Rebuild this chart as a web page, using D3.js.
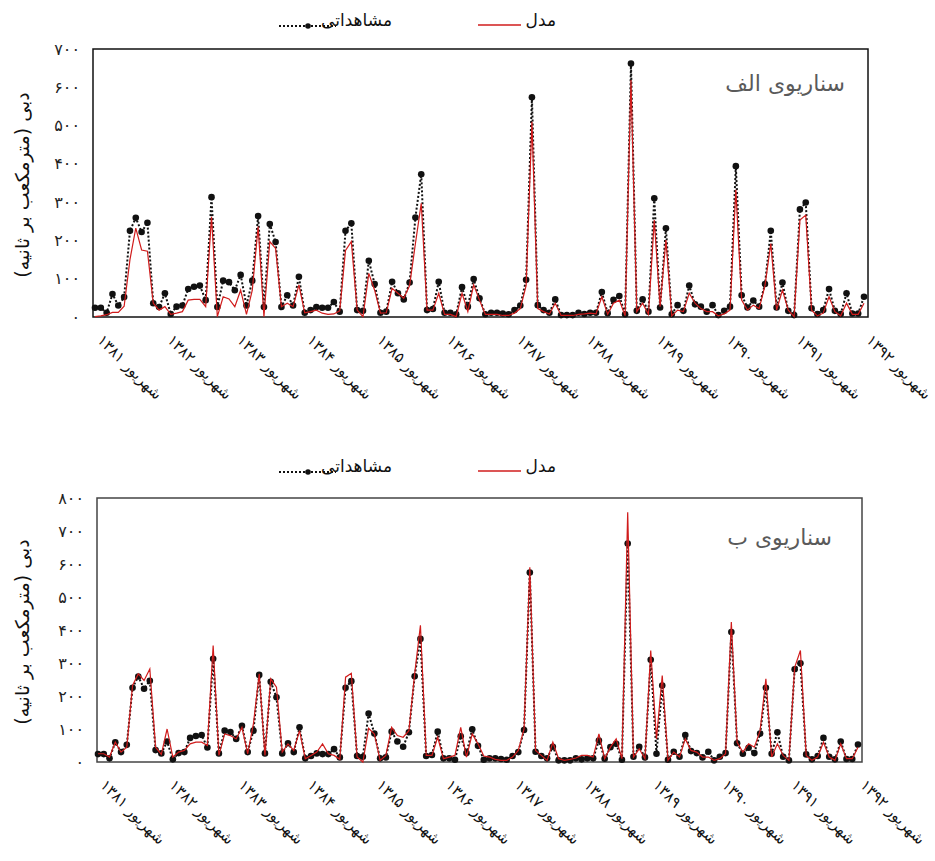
<!DOCTYPE html>
<html><head><meta charset="utf-8">
<script src="https://cdn.jsdelivr.net/npm/d3@7"></script>
<style>body{margin:0;background:#fff;} svg{display:block;} text{font-family:"DejaVu Sans",sans-serif;}</style>
</head><body>
<svg id="c" width="935" height="861"></svg>
<script>
// Observed discharge (m3/s), monthly, same in both panels
const observed = [24,24,11,60,30,52,225,259,222,246,36,26,62,8,27,30,73,79,82,44,313,26,95,91,70,110,30,95,264,26,243,196,26,57,30,105,11,18,26,24,24,39,14,225,245,18,16,147,86,11,14,92,62,46,90,260,373,18,21,92,11,11,7,78,27,99,49,7,11,11,9,7,18,30,97,574,31,18,11,46,5,5,5,11,8,11,11,65,10,45,55,7,662,16,46,14,310,25,232,7,31,16,82,33,27,14,31,5,16,27,394,57,25,43,27,86,225,25,90,16,5,281,299,23,8,18,73,16,8,62,9,9,53];
// Model, scenario A (الف)
const modelA = [1,3,6,12,12,28,150,232,175,172,36,18,27,7,10,14,44,46,46,27,262,1,53,47,27,70,7,70,236,1,197,179,27,36,27,84,11,14,18,10,7,8,16,174,197,18,1,114,70,10,11,75,62,49,82,192,297,18,18,62,7,7,1,62,14,84,44,7,7,7,4,4,10,22,82,510,22,14,8,36,4,4,4,7,8,10,8,53,7,36,44,3,619,14,36,7,253,27,201,3,18,14,62,36,22,14,14,3,8,18,332,44,18,31,22,82,192,18,70,18,1,253,266,18,3,10,53,14,3,36,7,7,36];
// Model, scenario B (ب)
const modelB = [25,25,15,60,30,45,232,267,247,282,45,23,100,15,30,35,55,60,60,50,353,20,85,80,70,105,25,116,267,20,252,227,30,55,35,95,10,20,30,55,25,20,8,257,269,15,0,102,85,5,20,105,80,75,95,267,414,20,20,75,10,15,20,105,15,85,55,18,15,8,5,5,15,35,100,590,35,20,5,60,10,5,8,12,20,20,15,85,10,45,70,10,757,15,40,10,338,70,262,5,30,15,70,35,30,15,15,5,10,25,424,60,30,55,45,95,252,15,55,20,5,287,338,20,5,15,60,15,5,55,10,10,45];
const yearLabels = ["۱۳۸۱","۱۳۸۲","۱۳۸۳","۱۳۸۴","۱۳۸۵","۱۳۸۶","۱۳۸۷","۱۳۸۸","۱۳۸۹","۱۳۹۰","۱۳۹۱","۱۳۹۲"];
const monthName = "شهریور";
const yTicksA = [0,100,200,300,400,500,600,700];
const yTicksB = [0,100,200,300,400,500,600,700,800];
const persianDigits = "۰۱۲۳۴۵۶۷۸۹";
const fa = n => String(n).replace(/\d/g, d => persianDigits[d]);
const yTitle = "دبی (مترمکعب بر ثانیه)";
const legendObs = "مشاهداتی";
const legendModel = "مدل";

const svg = d3.select("#c");

function panel(cfg){
  const g = svg.append("g");
  const x = d3.scaleLinear().domain([0, observed.length-1]).range([cfg.px0, cfg.px1]);
  const y = d3.scaleLinear().domain([0, cfg.ymax]).range([cfg.y1, cfg.y0]);
  // box
  g.append("rect").attr("x", cfg.x0).attr("y", cfg.y0).attr("width", cfg.x1-cfg.x0).attr("height", cfg.y1-cfg.y0)
    .attr("fill","none").attr("stroke", cfg.boxColor).attr("stroke-width",1.5);
  // y axis labels
  const ya = d3.axisLeft(y).tickValues(cfg.yticks).tickSize(0).tickPadding(0).tickFormat(fa);
  const yg = g.append("g").attr("transform",`translate(${cfg.x0-13},0)`).call(ya);
  yg.select(".domain").remove();
  yg.selectAll("text").attr("font-size",16).attr("fill","#222").attr("font-family","DejaVu Sans");
  // y title
  g.append("text").attr("transform",`translate(23,${(cfg.y0+cfg.y1)/2+2}) rotate(-90)`)
    .attr("text-anchor","middle").attr("dominant-baseline","middle").attr("font-size",19).attr("fill","#111").text(yTitle);
  // x labels
  const xa = d3.axisBottom(x).tickValues(d3.range(0, observed.length, 12)).tickSize(0).tickFormat((d,i)=> monthName+" "+yearLabels[i]);
  const xg = g.append("g").attr("transform",`translate(0,${cfg.y1})`).call(xa);
  xg.select(".domain").remove();
  xg.selectAll("text").attr("font-size",15).attr("fill","#111").attr("font-family","DejaVu Sans")
    .attr("text-anchor","start").attr("y",0).attr("dy",0)
    .attr("transform","translate(1,24) rotate(45)");
  // observed dotted line
  const line = d3.line().x((d,i)=>x(i)).y(d=>y(d));
  g.append("path").datum(observed).attr("d",line).attr("fill","none").attr("stroke","#111")
    .attr("stroke-width",2).attr("stroke-dasharray","2,2");
  g.selectAll("circle.o").data(observed).join("circle").attr("class","o")
    .attr("cx",(d,i)=>x(i)).attr("cy",d=>y(d)).attr("r",3.3).attr("fill","#111");
  // model
  g.append("path").datum(cfg.model).attr("d",line).attr("fill","none").attr("stroke","#d01c1c")
    .attr("stroke-width",1.2);
  // scenario label
  g.append("text").attr("x",cfg.labX).attr("y",cfg.labY).attr("text-anchor","end").attr("font-size",22)
    .attr("fill","#5a5a5a").text(cfg.label);
  // legend
  const ly = cfg.ly;
  g.append("text").attr("x",556).attr("y",ly+6).attr("text-anchor","end").attr("font-size",17).attr("fill","#111").text(legendModel);
  g.append("line").attr("x1",478).attr("x2",521).attr("y1",ly+5).attr("y2",ly+5).attr("stroke","#d01c1c").attr("stroke-width",1.5);
  g.append("text").attr("x",392).attr("y",ly+6).attr("text-anchor","end").attr("font-size",17).attr("fill","#111").text(legendObs);
  g.append("line").attr("x1",279).attr("x2",336).attr("y1",ly+6).attr("y2",ly+6).attr("stroke","#111").attr("stroke-width",2).attr("stroke-dasharray","2,2");
  g.append("circle").attr("cx",308).attr("cy",ly+6).attr("r",2.8).attr("fill","#111");
}

panel({x0:93,x1:868,y0:49,y1:317,px0:95,px1:864,ymax:700,yticks:yTicksA,model:modelA,boxColor:"#111",
  label:"سناریوی الف",labX:845,labY:91,ly:20});
panel({x0:97,x1:862,y0:498,y1:762,px0:98,px1:858,ymax:800,yticks:yTicksB,model:modelB,boxColor:"#444",
  label:"سناریوی ب",labX:832,labY:545,ly:466});
</script>
</body></html>
